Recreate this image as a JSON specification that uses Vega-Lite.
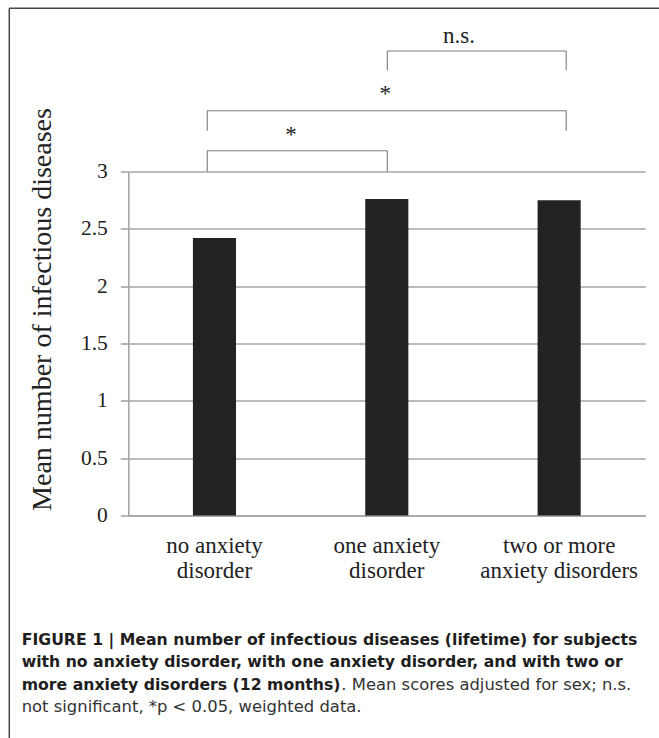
{
  "$schema": "https://vega.github.io/schema/vega-lite/v6.json",
  "width": 517,
  "height": 344,
  "autosize": {"type": "none"},
  "padding": {"left": 128.3, "top": 171.5, "right": 13.7, "bottom": 222.5},
  "background": "white",
  "config": {"view": {"stroke": null}},
  "title": {
    "text": [
      "FIGURE 1 | Mean number of infectious diseases (lifetime) for subjects",
      "with no anxiety disorder, with one anxiety disorder, and with two or",
      "more anxiety disorders (12 months)"
    ],
    "subtitle": [
      "\u200b\u2003\u2003\u2003\u2003\u2003\u2003\u2003\u2003\u2003\u2003\u2003\u2003\u2003\u2003\u2003\u2003\u2003\u2003\u2003\u2002. Mean scores adjusted for sex; n.s.",
      "not significant, *p < 0.05, weighted data."
    ],
    "orient": "bottom",
    "anchor": "start",
    "frame": "group",
    "align": "left",
    "dx": -106.6,
    "offset": -106,
    "font": "DejaVu Sans",
    "fontSize": 15.7,
    "fontWeight": "bold",
    "lineHeight": 22.6,
    "color": "#1e1e1e",
    "subtitleFont": "DejaVu Sans",
    "subtitleFontSize": 16.4,
    "subtitleFontWeight": "normal",
    "subtitleLineHeight": 22.6,
    "subtitleColor": "#333333",
    "subtitlePadding": -17
  },
  "resolve": {"scale": {"x": "independent"}, "axis": {"x": "independent"}},
  "layer": [
    {
      "data": {
        "values": [
          {"group": "no anxiety disorder", "mean": 2.42},
          {"group": "one anxiety disorder", "mean": 2.76},
          {"group": "two or more anxiety disorders", "mean": 2.75}
        ]
      },
      "mark": {"type": "bar", "color": "#222222"},
      "encoding": {
        "x": {
          "field": "group",
          "type": "nominal",
          "sort": null,
          "scale": {"paddingInner": 0.75, "paddingOuter": 0.375},
          "axis": {
            "title": null,
            "ticks": false,
            "tickSize": 0,
            "domain": true,
            "domainColor": "#a6a6a6",
            "domainWidth": 1.6,
            "labelAngle": 0,
            "labelFont": "Liberation Serif",
            "labelFontSize": 23,
            "labelLineHeight": 25,
            "labelPadding": 19,
            "labelColor": "#222222",
            "labelExpr": "datum.value == 'no anxiety disorder' ? ['no anxiety', 'disorder'] : datum.value == 'one anxiety disorder' ? ['one anxiety', 'disorder'] : ['two or more', 'anxiety disorders']"
          }
        },
        "y": {
          "field": "mean",
          "type": "quantitative",
          "scale": {"domain": [0, 3], "nice": false, "zero": true},
          "axis": {
            "values": [0, 0.5, 1, 1.5, 2, 2.5, 3],
            "format": "~g",
            "grid": true,
            "gridColor": "#a6a6a6",
            "gridWidth": 1.6,
            "domainColor": "#a6a6a6",
            "domainWidth": 1.6,
            "tickColor": "#a6a6a6",
            "tickWidth": 1.6,
            "tickSize": 8,
            "labelFont": "Liberation Serif",
            "labelFontSize": 21.5,
            "labelColor": "#222222",
            "labelPadding": 13,
            "title": "Mean number of infectious diseases",
            "titleFont": "Liberation Serif",
            "titleFontSize": 28,
            "titleFontWeight": "normal",
            "titleColor": "#222222",
            "titleAngle": -90,
            "titleAlign": "center",
            "titleBaseline": "alphabetic",
            "titleX": -78.3,
            "titleY": 137.5
          }
        }
      }
    },
    {
      "data": {
        "values": [
          {"x1": 0.458, "x2": 1.503, "top": 3.181, "base": 3.0, "label": "*", "lx": 0.944, "ly": 3.257},
          {"x1": 0.458, "x2": 2.541, "top": 3.53, "base": 3.356, "label": "*", "lx": 1.491, "ly": 3.611},
          {"x1": 1.503, "x2": 2.541, "top": 4.051, "base": 3.883, "label": "n.s.", "lx": 1.919, "ly": 4.118}
        ]
      },
      "layer": [
        {
          "mark": {"type": "rule", "color": "#7a7a7a", "strokeWidth": 1.1},
          "encoding": {
            "x": {"field": "x1", "type": "quantitative", "scale": {"domain": [0, 3], "nice": false, "zero": false}, "axis": null},
            "x2": {"field": "x2"},
            "y": {"field": "top", "type": "quantitative", "scale": {"domain": [0, 3], "nice": false}}
          }
        },
        {
          "mark": {"type": "rule", "color": "#7a7a7a", "strokeWidth": 1.1},
          "encoding": {
            "x": {"field": "x1", "type": "quantitative", "scale": {"domain": [0, 3], "nice": false, "zero": false}, "axis": null},
            "y": {"field": "base", "type": "quantitative", "scale": {"domain": [0, 3], "nice": false}},
            "y2": {"field": "top"}
          }
        },
        {
          "mark": {"type": "rule", "color": "#7a7a7a", "strokeWidth": 1.1},
          "encoding": {
            "x": {"field": "x2", "type": "quantitative", "scale": {"domain": [0, 3], "nice": false, "zero": false}, "axis": null},
            "y": {"field": "base", "type": "quantitative", "scale": {"domain": [0, 3], "nice": false}},
            "y2": {"field": "top"}
          }
        },
        {
          "mark": {"type": "text", "font": "Liberation Serif", "fontSize": 23, "baseline": "alphabetic", "align": "center", "color": "#222222"},
          "encoding": {
            "x": {"field": "lx", "type": "quantitative", "scale": {"domain": [0, 3], "nice": false, "zero": false}, "axis": null},
            "y": {"field": "ly", "type": "quantitative", "scale": {"domain": [0, 3], "nice": false}},
            "text": {"field": "label"}
          }
        },
        {
          "data": {"values": [{}]},
          "mark": {"type": "rule", "color": "#444444", "strokeWidth": 1.5},
          "encoding": {
            "x": {"datum": -0.6905, "type": "quantitative", "scale": {"domain": [0, 3], "nice": false, "zero": false}, "axis": null},
            "x2": {"datum": 3.2},
            "y": {"datum": 4.423, "type": "quantitative", "scale": {"domain": [0, 3], "nice": false}}
          }
        },
        {
          "data": {"values": [{}]},
          "mark": {"type": "rule", "color": "#444444", "strokeWidth": 1.5},
          "encoding": {
            "x": {"datum": -0.6905, "type": "quantitative", "scale": {"domain": [0, 3], "nice": false, "zero": false}, "axis": null},
            "y": {"datum": 4.423, "type": "quantitative", "scale": {"domain": [0, 3], "nice": false}},
            "y2": {"datum": -1.94}
          }
        }
      ]
    }
  ]
}
